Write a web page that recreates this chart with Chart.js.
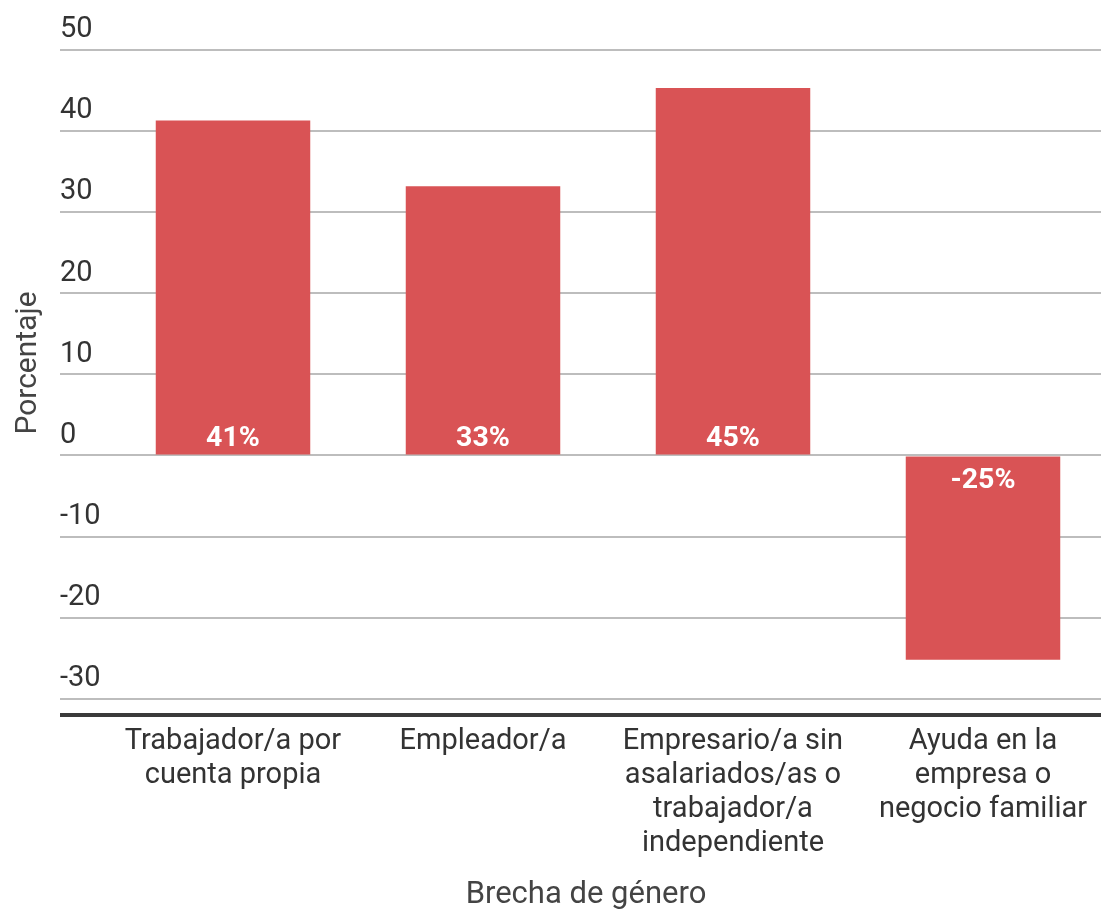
<!DOCTYPE html>
<html>
<head>
<meta charset="utf-8">
<script src="https://cdn.jsdelivr.net/npm/chart.js@4/dist/chart.umd.min.js"></script>
<style>
  html, body { margin: 0; padding: 0; background: #fff; overflow: hidden; }
  #wrap { width: 1110px; height: 909px; position: relative; }
</style>
</head>
<body>
<div id="wrap"><canvas id="c" width="1110" height="909"></canvas></div>
<script>
const categories = [
  ["Trabajador/a por", "cuenta propia"],
  ["Empleador/a"],
  ["Empresario/a sin", "asalariados/as o", "trabajador/a", "independiente"],
  ["Ayuda en la", "empresa o", "negocio familiar"]
];
const brecha = [41.3, 33.2, 45.3, -25.2];
const valueLabels = ["41%", "33%", "45%", "-25%"];
const yTicks = [-32, -30, -20, -10, 0, 10, 20, 30, 40, 50];
const yMin = -32;
const yMax = 50;
const yTitle = "Porcentaje";
const xTitle = "Brecha de género";

const FONT = "Roboto, 'Noto Sans', sans-serif";

const extrasPlugin = {
  id: 'extras',
  afterDatasetsDraw(chart) {
    const ctx = chart.ctx;
    const meta = chart.getDatasetMeta(0);
    const y0 = chart.scales.y.getPixelForValue(0);
    ctx.save();
    ctx.fillStyle = '#ffffff';
    ctx.font = 'bold 28.5px ' + FONT;
    ctx.textAlign = 'center';
    ctx.textBaseline = 'alphabetic';
    meta.data.forEach((bar, i) => {
      const v = brecha[i];
      const ty = v >= 0 ? y0 - 9 : y0 + 33;
      ctx.fillText(valueLabels[i], bar.x, ty);
    });
    ctx.restore();
  },
  afterDraw(chart) {
    const ctx = chart.ctx;
    ctx.save();
    ctx.fillStyle = '#444';
    ctx.font = '31px ' + FONT;
    ctx.textAlign = 'center';
    ctx.textBaseline = 'alphabetic';
    ctx.fillText(xTitle, 586, 903);
    ctx.translate(36, 363);
    ctx.rotate(-Math.PI / 2);
    ctx.font = '30px ' + FONT;
    ctx.fillText(yTitle, 0, 0);
    ctx.restore();
  }
};

new Chart(document.getElementById('c'), {
  type: 'bar',
  data: {
    labels: categories,
    datasets: [{
      data: brecha,
      backgroundColor: '#d95355',
      borderWidth: 0,
      barPercentage: 0.618,
      categoryPercentage: 1.0
    }]
  },
  options: {
    responsive: false,
    animation: false,
    layout: { padding: { left: 60, right: 2, top: 50, bottom: 0 } },
    plugins: { legend: { display: false }, tooltip: { enabled: false } },
    scales: {
      x: {
        grid: { display: false, drawTicks: false },
        border: { display: false },
        ticks: {
          color: '#333',
          font: { family: FONT, size: 29, lineHeight: 1.17 },
          padding: 10,
          maxRotation: 0,
          autoSkip: false
        },
        afterFit(scale) { scale.height = 194; }
      },
      y: {
        min: yMin,
        max: yMax,
        border: { display: false },
        afterBuildTicks(scale) { scale.ticks = yTicks.map(v => ({ value: v })); },
        afterFit(scale) { scale.width = 48; },
        grid: {
          color: ctx => (ctx.tick && ctx.tick.value === yMin) ? '#3a3a3a' : '#bdbdbd',
          lineWidth: ctx => (ctx.tick && ctx.tick.value === yMin) ? 4 : 2,
          drawTicks: true,
          tickLength: 48
        },
        ticks: {
          color: '#333',
          font: { family: FONT, size: 29 },
          crossAlign: 'far',
          labelOffset: -20,
          padding: 0,
          autoSkip: false,
          callback: v => v === yMin ? '' : String(v)
        }
      }
    }
  },
  plugins: [extrasPlugin]
});
</script>
</body>
</html>
